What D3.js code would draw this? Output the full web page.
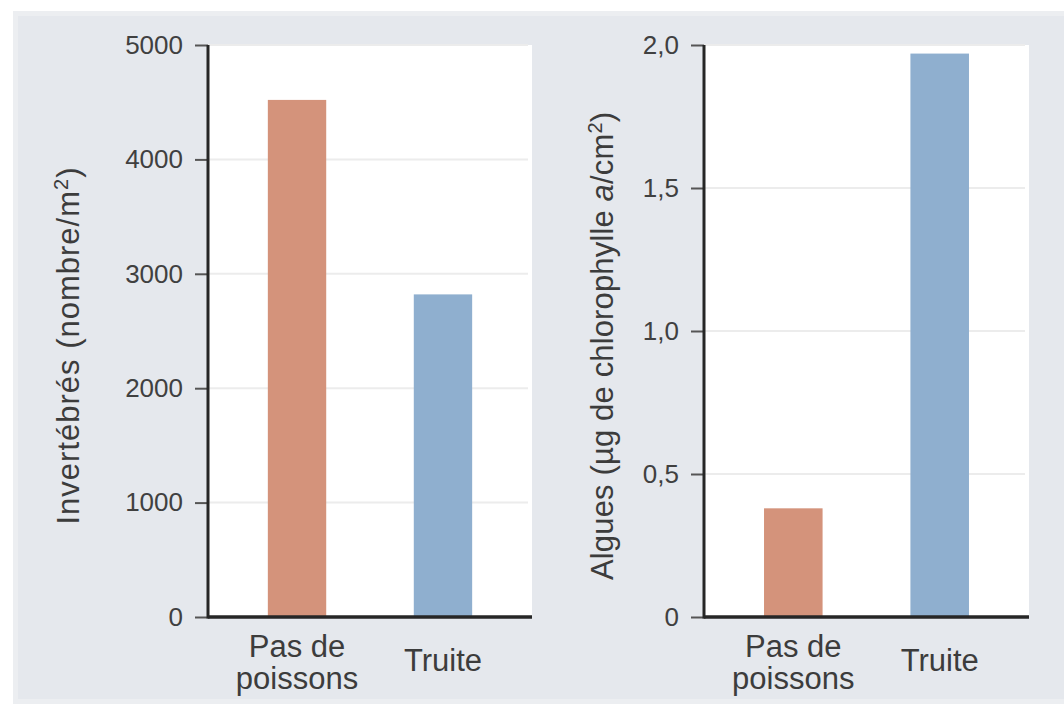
<!DOCTYPE html>
<html>
<head>
<meta charset="utf-8">
<script src="https://cdn.jsdelivr.net/npm/d3@7"></script>
<style>
  html, body { margin: 0; padding: 0; background: #ffffff; }
  svg { display: block; }
  text { font-family: "Liberation Sans", Arial, Helvetica, sans-serif; }
</style>
</head>
<body>
<svg id="chart" width="1064" height="705"></svg>
<script>
// ---- data ----
const categories = ["Pas de poissons", "Truite"];
const categoryLines = [["Pas de", "poissons"], ["Truite"]];
const invertebres = [4520, 2820];
const algues = [0.38, 1.97];
const leftTicks = [0, 1000, 2000, 3000, 4000, 5000];
const rightTicks = [0, 0.5, 1.0, 1.5, 2.0];
const rightTickLabels = ["0", "0,5", "1,0", "1,5", "2,0"];
const barColors = ["#d4937b", "#8fafcf"];

const svg = d3.select("#chart");

// background panel
svg.append("rect").attr("x", 15).attr("y", 13).attr("width", 1049).attr("height", 689)
  .attr("fill", "#e5e8ed");
svg.append("rect").attr("x", 15.5).attr("y", 13.5).attr("width", 1060).attr("height", 688)
  .attr("fill", "none").attr("stroke", "#eceef1").attr("stroke-width", 5);

function panel(opts) {
  const { x0, x1, yTop, yBottom, values, domainMax, ticks, tickLabels, title, titleX, titleLen } = opts;
  const g = svg.append("g");
  const xScale = d3.scaleBand().domain(categories).range([x0, x1])
    .paddingInner(0.6).paddingOuter(0.41);
  const yScale = d3.scaleLinear().domain([0, domainMax]).range([yBottom, yTop]);

  // plot background
  g.append("rect").attr("x", x0).attr("y", yTop).attr("width", x1 - x0).attr("height", yBottom - yTop)
    .attr("fill", "#ffffff");

  // gridlines
  g.selectAll(".grid").data(ticks.filter(t => t > 0)).enter().append("line")
    .attr("x1", x0).attr("x2", x1 - 4)
    .attr("y1", d => yScale(d)).attr("y2", d => yScale(d))
    .attr("stroke", "#ececec").attr("stroke-width", 2);

  // bars
  g.selectAll(".bar").data(values).enter().append("rect")
    .attr("x", (d, i) => xScale(categories[i]))
    .attr("width", xScale.bandwidth())
    .attr("y", d => yScale(d))
    .attr("height", d => yBottom - yScale(d))
    .attr("fill", (d, i) => barColors[i]);

  // y axis
  const yAxis = d3.axisLeft(yScale).tickValues(ticks)
    .tickFormat((d, i) => tickLabels[i]).tickSize(13).tickPadding(12);
  const ya = g.append("g").attr("transform", `translate(${x0},0)`).call(yAxis);
  ya.select(".domain").remove();
  ya.selectAll(".tick line").attr("stroke", "#555").attr("stroke-width", 2);
  ya.selectAll(".tick text").attr("font-size", 26).attr("fill", "#404040")
    .attr("font-family", "Liberation Sans, Arial, sans-serif");

  // axis lines
  g.append("line").attr("x1", x0).attr("x2", x0).attr("y1", yTop).attr("y2", yBottom + 1.5)
    .attr("stroke", "#262626").attr("stroke-width", 3);
  g.append("line").attr("x1", x0).attr("x2", x1).attr("y1", yBottom).attr("y2", yBottom)
    .attr("stroke", "#262626").attr("stroke-width", 3.5);

  // category labels
  categories.forEach((c, i) => {
    const cx = xScale(c) + xScale.bandwidth() / 2;
    const lines = categoryLines[i];
    const t = g.append("text").attr("x", cx).attr("text-anchor", "middle")
      .attr("font-size", 31).attr("fill", "#3c3c3c");
    if (lines.length === 2) {
      t.append("tspan").attr("x", cx).attr("y", 657).text(lines[0]);
      t.append("tspan").attr("x", cx).attr("y", 689).text(lines[1]);
    } else {
      t.append("tspan").attr("x", cx).attr("y", 671).text(lines[0]);
    }
  });

  // title
  const tt = g.append("text").attr("transform", `translate(${titleX},346) rotate(-90)`)
    .attr("text-anchor", "middle").attr("font-size", 31).attr("fill", "#3c3c3c")
    .attr("dy", "0.35em")
    .attr("textLength", titleLen).attr("lengthAdjust", "spacing");
  title(tt);
}

panel({
  x0: 208, x1: 532, yTop: 45, yBottom: 617,
  values: invertebres, domainMax: 5000, ticks: leftTicks,
  tickLabels: leftTicks.map(String), titleX: 68, titleLen: 357,
  title: t => {
    t.append("tspan").text("Invertébrés (nombre/m");
    t.append("tspan").attr("font-size", 20).attr("dy", "-0.55em").text("2");
    t.append("tspan").attr("dy", "0.35em").text(")");
  }
});

panel({
  x0: 704, x1: 1029, yTop: 45, yBottom: 617,
  values: algues, domainMax: 2.0, ticks: rightTicks,
  tickLabels: rightTickLabels, titleX: 602, titleLen: 468,
  title: t => {
    t.append("tspan").text("Algues (µg de chlorophylle ");
    t.append("tspan").attr("font-style", "italic").text("a");
    t.append("tspan").text("/cm");
    t.append("tspan").attr("font-size", 20).attr("dy", "-0.55em").text("2");
    t.append("tspan").attr("dy", "0.35em").text(")");
  }
});
</script>
</body>
</html>
